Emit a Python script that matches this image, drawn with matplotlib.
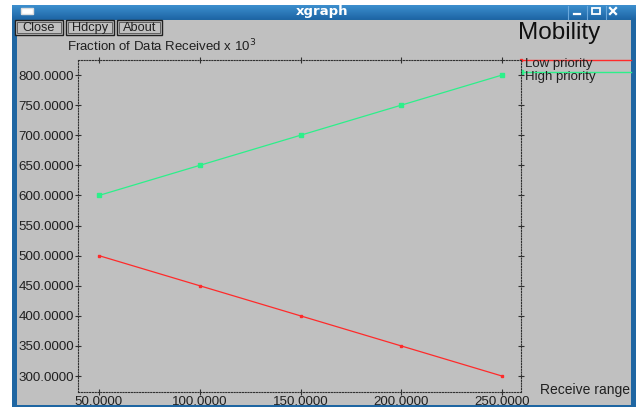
import matplotlib.pyplot as plt
import matplotlib.patches as mpatches
import numpy as np

# --- Data ---
receive_range = [50, 100, 150, 200, 250]
low_priority = [500, 450, 400, 350, 300]
high_priority = [600, 650, 700, 750, 800]
x_ticks = [50, 100, 150, 200, 250]
y_ticks = [300, 350, 400, 450, 500, 550, 600, 650, 700, 750, 800]

RED = '#ff2a2a'
GREEN = '#2cf08a'
GRAY = '#c0c0c0'
W, H = 639, 407

plt.rcParams['font.family'] = ['Liberation Sans', 'DejaVu Sans']

fig = plt.figure(figsize=(W / 100, H / 100), dpi=100)
fig.patch.set_facecolor('white')

# --- Window chrome drawn in pixel coordinates ---
bg = fig.add_axes([0, 0, 1, 1])
bg.set_xlim(0, W)
bg.set_ylim(H, 0)
bg.axis('off')

# blue frame + title bar gradient
grad = np.linspace(0, 1, 64).reshape(-1, 1)
bg.imshow(grad, cmap=plt.matplotlib.colors.LinearSegmentedColormap.from_list(
    'bar', ['#3d8fcf', '#1c64a3']), extent=[12, 636, 20, 5], aspect='auto', zorder=1)
bg.add_patch(mpatches.Rectangle((12, 19), 624, 388, facecolor='#1f66a2', edgecolor='none', zorder=1))
bg.add_patch(mpatches.Rectangle((17, 20), 614, 385, facecolor=GRAY, edgecolor='none', zorder=2))

# title bar contents
bg.text(322, 11.5, 'xgraph', color='white', fontsize=9.5, fontweight='bold',
        ha='center', va='center', family='DejaVu Sans', zorder=3)
bg.add_patch(mpatches.Rectangle((21, 8), 12, 6, facecolor='white', edgecolor='#dddddd', zorder=3))
for sx in (568, 587, 606):
    bg.plot([sx, sx], [6, 19], color='#6aa8dc', lw=0.8, zorder=3)
bg.plot([574, 580], [14, 14], color='white', lw=1.6, zorder=3)
bg.add_patch(mpatches.Rectangle((592, 8), 8, 6, facecolor='none', edgecolor='white', lw=1.3, zorder=3))
bg.plot([610, 616], [8, 14], color='white', lw=1.6, zorder=3)
bg.plot([610, 616], [14, 8], color='white', lw=1.6, zorder=3)

# xgraph buttons
for label, x0, x1 in [('Close', 15, 63), ('Hdcpy', 66, 114), ('About', 117, 162)]:
    bg.add_patch(mpatches.Rectangle((x0, 20), x1 - x0, 15, facecolor=GRAY,
                                    edgecolor='#202020', lw=1.0, zorder=3))
    bg.add_patch(mpatches.Rectangle((x0 + 2, 22), x1 - x0 - 4, 11, facecolor='none',
                                    edgecolor='#505050', lw=0.6, zorder=3))
    bg.text((x0 + x1) / 2, 28, label, fontsize=9.2, color='#202020',
            ha='center', va='center', zorder=4)

# titles
bg.text(559, 33, 'Mobility', fontsize=17.5, color='#101010', ha='center', va='center', zorder=3)
bg.text(67, 46, r'Fraction of Data Received x 10$^{3}$', fontsize=9.5, color='#202020',
        ha='left', va='center', zorder=3)
bg.text(630, 390, 'Receive range', fontsize=10, color='#202020', ha='right', va='center', zorder=3)

# legend lines to the right of the plot
bg.plot([521, 631], [60, 60], color=RED, lw=1.0, zorder=3)
bg.plot([521, 631], [72, 72], color=GREEN, lw=1.0, zorder=3)
bg.plot([521], [60], 's', color=RED, ms=2, zorder=3)
bg.plot([521], [72], 's', color=GREEN, ms=3, zorder=3)
bg.text(525, 64, 'Low priority', fontsize=9.5, color='#202020', ha='left', va='center', zorder=3)
bg.text(525, 77, 'High priority', fontsize=9.5, color='#202020', ha='left', va='center', zorder=3)

# --- Plot area ---
left, right, top, bottom = 78, 521, 60, 392
ax = fig.add_axes([left / W, 1 - bottom / H, (right - left) / W, (bottom - top) / H])
ax.set_facecolor(GRAY)

ax.plot(receive_range, low_priority, color=RED, lw=0.9, marker='s', ms=2)
ax.plot(receive_range, high_priority, color=GREEN, lw=0.9, marker='s', ms=3.5)

ax.set_xlim(39.6, 259.4)
ax.set_ylim(273.5, 825)
ax.set_xticks(x_ticks)
ax.set_yticks(y_ticks)
ax.set_xticklabels([f'{v:.4f}' for v in x_ticks])
ax.set_yticklabels([f'{v:.4f}' for v in y_ticks])
ax.tick_params(axis='both', labelsize=9.6, labelcolor='#202020', color='#303030',
               direction='inout', length=4, width=0.8, pad=1,
               top=True, right=True)

for sp in ax.spines.values():
    sp.set_linestyle((0, (1, 1.5)))
    sp.set_linewidth(0.8)
    sp.set_color('#303030')

fig.savefig('out.png', dpi=100, facecolor=fig.get_facecolor())
